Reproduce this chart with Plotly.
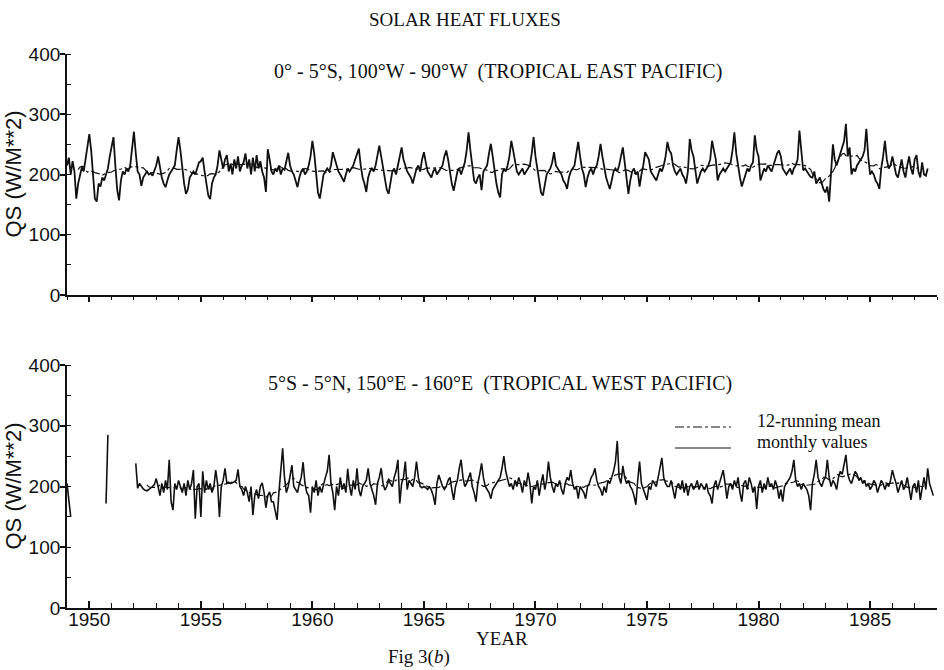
import pandas as pd
import plotly.graph_objects as go

N = None

# ---- Tropical East Pacific (0-5S, 100W-90W), monthly QS (W/m^2), Jan 1949 onward
east_1949_1958 = [
    215, 228, 200, 222, 205, 160, 185, 200, 212, 205, 225, 240,
    267, 240, 195, 160, 155, 185, 180, 195, 190, 200, 210, 230,
    245, 262, 215, 175, 157, 190, 205, 200, 210, 205, 215, 240,
    271, 235, 205, 200, 181, 195, 200, 205, 200, 202, 198, 205,
    215, 230, 210, 195, 185, 179, 190, 200, 205, 210, 215, 240,
    262, 240, 210, 185, 168, 175, 195, 200, 205, 200, 210, 220,
    222, 228, 205, 180, 165, 159, 185, 195, 200, 215, 240, 225,
    210, 225, 232, 205, 218, 200, 225, 210, 230, 205, 215, 220,
    235, 210, 225, 200, 228, 205, 232, 210, 222, 205, 195, 171,
    242, 225, 205, 200, 210, 205, 215, 200, 210, 208, 220, 236,
]
east_1959_1968 = [
    215, 205, 200, 190, 179, 195, 205, 210, 200, 205, 215, 230,
    256, 235, 195, 170, 160, 185, 200, 205, 210, 205, 215, 237,
    225, 215, 205, 200, 195, 188, 200, 210, 205, 210, 215, 225,
    235, 243, 215, 195, 185, 171, 195, 205, 210, 205, 215, 235,
    248, 230, 210, 190, 175, 168, 190, 205, 210, 200, 215, 230,
    245, 225, 215, 205, 200, 195, 185, 200, 210, 215, 205, 225,
    237, 220, 205, 200, 195, 205, 210, 200, 205, 210, 215, 230,
    240, 225, 200, 185, 173, 190, 205, 210, 200, 210, 220, 240,
    270, 240, 210, 190, 185, 195, 200, 174, 205, 210, 215, 235,
    251, 230, 205, 185, 170, 162, 200, 210, 205, 215, 230, 256,
]
east_1969_1978 = [
    240, 220, 205, 200, 205, 210, 200, 205, 210, 215, 235, 262,
    230, 210, 190, 170, 165, 185, 200, 205, 210, 220, 237, 215,
    210, 205, 200, 190, 185, 176, 195, 205, 210, 215, 235, 254,
    230, 210, 200, 179, 195, 205, 210, 200, 210, 215, 230, 251,
    230, 210, 195, 185, 176, 190, 205, 210, 205, 215, 228, 245,
    220, 190, 168, 190, 205, 210, 200, 205, 180, 200, 215, 237,
    230, 225, 205, 200, 195, 190, 200, 210, 205, 215, 230, 254,
    240, 235, 215, 205, 200, 205, 210, 200, 195, 185, 205, 259,
    240, 230, 205, 185, 195, 205, 210, 205, 210, 215, 225, 256,
    240, 225, 190, 200, 205, 210, 205, 210, 215, 220, 240, 270,
]
east_1979_1987 = [
    235, 210, 195, 180, 190, 200, 210, 205, 215, 220, 265, 240,
    230, 190, 200, 210, 205, 215, 210, 205, 215, 225, 235, 240,
    230, 210, 205, 200, 205, 210, 200, 210, 215, 225, 273, 240,
    207, 210, 205, 200, 196, 195, 205, 185, 191, 195, 185, 175,
    170, 180, 155, 200, 250, 225, 215, 225, 235, 245, 255, 284,
    230, 245, 200, 210, 205, 215, 220, 225, 230, 240, 276, 230,
    200, 205, 200, 190, 185, 176, 210, 230, 256, 225, 210, 215,
    230, 215, 200, 195, 210, 225, 205, 195, 215, 230, 210, 200,
    225, 232, 205, 195, 220, 200, 198, 210,
]

# ---- Tropical West Pacific (5S-5N, 150E-160E), monthly QS (W/m^2), Jan 1949 onward
west_1949_1958 = [
    205, 180, 150, N, N, N, N, N, N, N, N, N,
    N, N, N, N, N, N, N, N, N, 172, 285, N,
    N, N, N, N, N, N, N, N, N, N, N, N,
    N, 238, 197, 205, 200, 196, 194, 193, 195, 197, 200, 203,
    213, 200, 185, 205, 190, 210, 195, 244, 175, 161, 205, 195,
    210, 200, 190, 205, 185, 210, 195, 205, 227, 147, 200, 205,
    150, 225, 190, 210, 195, 205, 190, 200, 227, 205, 150, 200,
    210, 230, 205, 207, 205, 206, 208, 210, 228, 200, 195, 185,
    200, 190, 175, 200, 153, 185, 195, 180, 200, 206, 190, 165,
    185, 191, 175, 175, 160, 145, 190, 230, 263, 215, 190, 200,
]
west_1959_1968 = [
    215, 235, 200, 195, 190, 205, 215, 240, 205, 190, 185, 157,
    200, 190, 210, 185, 200, 190, 205, 215, 225, 252, 205, 190,
    161, 200, 185, 215, 195, 205, 190, 229, 200, 185, 210, 195,
    230, 195, 184, 200, 205, 210, 230, 205, 195, 185, 170, 205,
    215, 230, 205, 194, 200, 210, 205, 200, 215, 225, 244, 172,
    205, 215, 241, 195, 210, 205, 200, 215, 241, 215, 200, 198,
    200, 198, 195, 200, 194, 185, 170, 205, 219, 210, 200, 195,
    200, 210, 215, 195, 178, 200, 210, 230, 244, 215, 200, 205,
    215, 223, 200, 190, 175, 205, 220, 238, 215, 200, 195, 190,
    180, 195, 200, 205, 210, 215, 230, 250, 225, 210, 200, 205,
]
west_1969_1978 = [
    195, 210, 200, 215, 205, 190, 210, 200, 223, 205, 172, 200,
    195, 210, 185, 205, 220, 195, 210, 241, 215, 200, 190, 205,
    200, 210, 195, 187, 205, 215, 210, 227, 205, 195, 200, 180,
    200, 195, 190, 180, 200, 205, 215, 220, 230, 210, 200, 195,
    185, 200, 190, 210, 205, 215, 225, 240, 275, 215, 205, 234,
    215, 205, 210, 200, 195, 185, 170, 210, 241, 205, 195, 185,
    178, 200, 195, 210, 205, 200, 215, 235, 247, 215, 205, 200,
    200, 210, 195, 180, 200, 205, 195, 210, 190, 205, 185, 200,
    205, 195, 200, 210, 195, 205, 200, 195, 205, 190, 185, 172,
    200, 210, 195, 205, 215, 227, 205, 180, 200, 205, 195, 210,
]
west_1979_1987 = [
    200, 215, 190, 175, 205, 210, 195, 215, 205, 190, 200, 163,
    200, 210, 190, 205, 195, 215, 200, 205, 195, 210, 200, 180,
    195, 175, 200, 205, 210, 215, 225, 244, 210, 200, 205, 195,
    205, 200, 195, 185, 161, 205, 220, 244, 215, 205, 200, 210,
    215, 244, 215, 200, 210, 205, 195, 215, 225, 220, 235, 252,
    220, 210, 205, 215, 225, 220, 210, 215, 205, 210, 200, 205,
    195, 200, 210, 205, 190, 200, 210, 205, 195, 205, 200, 210,
    227, 215, 205, 190, 200, 210, 195, 200, 215, 195, 178, 200,
    205, 190, 210, 178, 200, 215, 195, 230, 205, 194, 185,
]

start_year = 1949
year_ticks = [1950, 1955, 1960, 1965, 1970, 1975, 1980, 1985]
y_ticks = [0, 100, 200, 300, 400]

east = east_1949_1958 + east_1959_1968 + east_1969_1978 + east_1979_1987
west = west_1949_1958 + west_1959_1968 + west_1969_1978 + west_1979_1987
x_east = [start_year + i / 12 for i in range(len(east))]
x_west = [start_year + i / 12 for i in range(len(west))]
east_mean = pd.Series(east, dtype=float).rolling(12, center=True).mean()
west_mean = pd.Series(west, dtype=float).rolling(12, center=True).mean()

INK = "#111111"
W, H = 944, 670
X0, X1 = 67 / W, 937 / W

fig = go.Figure()
fig.add_trace(go.Scatter(x=x_east, y=east, mode="lines", line=dict(color=INK, width=1.8),
                         xaxis="x", yaxis="y", showlegend=False, connectgaps=False))
fig.add_trace(go.Scatter(x=x_east, y=east_mean, mode="lines",
                         line=dict(color=INK, width=1.2, dash="dashdot"),
                         xaxis="x", yaxis="y", showlegend=False))
fig.add_trace(go.Scatter(x=x_west, y=west, mode="lines", line=dict(color=INK, width=1.6),
                         xaxis="x2", yaxis="y2", showlegend=False, connectgaps=False))
fig.add_trace(go.Scatter(x=x_west, y=west_mean, mode="lines",
                         line=dict(color=INK, width=1.2, dash="dashdot"),
                         xaxis="x2", yaxis="y2", showlegend=False))

sans = "Liberation Sans, Arial, sans-serif"
serif = "Liberation Serif, Times New Roman, serif"
tick_font = dict(family=sans, size=19, color=INK)

common_x = dict(range=[1949, 1988], showline=True, linecolor=INK, linewidth=1.8,
                showgrid=False, zeroline=False, tickvals=year_ticks, automargin=False,
                tickcolor=INK, tickfont=tick_font)
common_y = dict(range=[0, 400], showline=True, linecolor=INK, linewidth=1.8,
                showgrid=False, zeroline=False, tickvals=y_ticks, automargin=False,
                ticks="outside", ticklen=5, tickwidth=1.5, tickcolor=INK,
                tickfont=tick_font, ticklabelstandoff=-4,
                minor=dict(dtick=50, ticks="inside", ticklen=4, tickcolor=INK, tickwidth=1.2))

fig.update_layout(
    width=W, height=H, margin=dict(l=0, r=0, t=0, b=0, autoexpand=False),
    paper_bgcolor="white", plot_bgcolor="white", showlegend=False,
    xaxis=dict(domain=[X0, X1], anchor="y", showticklabels=False,
               ticks="outside", ticklen=5, tickwidth=1.5,
               minor=dict(dtick=1, ticks="outside", ticklen=3, tickcolor=INK, tickwidth=1.2),
               **common_x),
    yaxis=dict(domain=[1 - 295 / H, 1 - 54 / H], anchor="x", **common_y),
    xaxis2=dict(domain=[X0, X1], anchor="y2", showticklabels=True,
                ticks="inside", ticklen=7, tickwidth=1.5, ticklabelstandoff=-7,
                minor=dict(dtick=1, ticks="inside", ticklen=5, tickcolor=INK, tickwidth=1.2),
                **common_x),
    yaxis2=dict(domain=[1 - 608 / H, 1 - 365 / H], anchor="x2", **common_y),
)

def ann(text, x, y, size, family=serif, xanchor="center", **kw):
    fig.add_annotation(text=text, x=x / W, y=1 - y / H, xref="paper", yref="paper",
                       xanchor=xanchor, yanchor="middle", showarrow=False,
                       font=dict(family=family, size=size, color=INK), **kw)

ann("SOLAR HEAT FLUXES", 465, 19, 19)
ann("0° - 5°S, 100°W - 90°W  (TROPICAL EAST PACIFIC)", 498, 71, 20)
ann("5°S - 5°N, 150°E - 160°E  (TROPICAL WEST PACIFIC)", 500, 383, 20)
ann("QS (W/M**2)", 13, 174.5, 22, family=sans, textangle=-90)
ann("QS (W/M**2)", 13, 486.5, 22, family=sans, textangle=-90)
ann("12-running mean", 755, 421, 18, xanchor="left")
ann("monthly values", 755, 442, 18, xanchor="left")
ann("YEAR", 502, 638, 19)
ann("Fig 3(<i>b</i>)", 419, 657, 19)

# legend sample lines
fig.add_shape(type="line", xref="paper", yref="paper", x0=675 / W, x1=731 / W,
              y0=1 - 427 / H, y1=1 - 427 / H, line=dict(color=INK, width=1.2, dash="dashdot"))
fig.add_shape(type="line", xref="paper", yref="paper", x0=675 / W, x1=731 / W,
              y0=1 - 448 / H, y1=1 - 448 / H, line=dict(color=INK, width=1.2))

fig.write_html("out.html")
